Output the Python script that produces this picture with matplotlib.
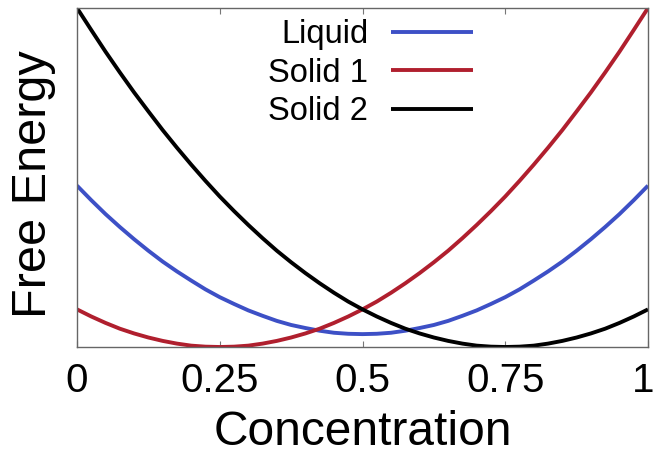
import matplotlib
matplotlib.use("Agg")
import matplotlib.pyplot as plt
import matplotlib.transforms as mtransforms

plt.rcParams['font.family'] = ['Liberation Sans', 'DejaVu Sans']

concentration = [0.000, 0.025, 0.050, 0.075, 0.100, 0.125, 0.150, 0.175, 0.200, 0.225,
                 0.250, 0.275, 0.300, 0.325, 0.350, 0.375, 0.400, 0.425, 0.450, 0.475,
                 0.500, 0.525, 0.550, 0.575, 0.600, 0.625, 0.650, 0.675, 0.700, 0.725,
                 0.750, 0.775, 0.800, 0.825, 0.850, 0.875, 0.900, 0.925, 0.950, 0.975,
                 1.000]
liquid = [0.476, 0.433, 0.392, 0.354, 0.318, 0.284, 0.252, 0.223, 0.196, 0.170,
          0.147, 0.127, 0.108, 0.092, 0.077, 0.065, 0.056, 0.048, 0.042, 0.039,
          0.038, 0.039, 0.042, 0.048, 0.056, 0.065, 0.077, 0.092, 0.108, 0.127,
          0.147, 0.170, 0.196, 0.223, 0.252, 0.284, 0.318, 0.354, 0.392, 0.433,
          0.476]
solid1 = [0.111, 0.090, 0.071, 0.054, 0.040, 0.028, 0.018, 0.010, 0.004, 0.001,
          0.000, 0.001, 0.004, 0.010, 0.018, 0.028, 0.040, 0.054, 0.071, 0.090,
          0.111, 0.134, 0.160, 0.188, 0.218, 0.250, 0.284, 0.321, 0.360, 0.401,
          0.444, 0.490, 0.538, 0.588, 0.640, 0.695, 0.751, 0.810, 0.871, 0.935,
          1.000]
solid2 = [1.000, 0.935, 0.871, 0.810, 0.751, 0.695, 0.640, 0.588, 0.538, 0.490,
          0.444, 0.401, 0.360, 0.321, 0.284, 0.250, 0.218, 0.188, 0.160, 0.134,
          0.111, 0.090, 0.071, 0.054, 0.040, 0.028, 0.018, 0.010, 0.004, 0.001,
          0.000, 0.001, 0.004, 0.010, 0.018, 0.028, 0.040, 0.054, 0.071, 0.090,
          0.111]
series_names = ["Liquid", "Solid 1", "Solid 2"]
xticks = [0, 0.25, 0.5, 0.75, 1]
xtick_labels = ["0", "0.25", "0.5", "0.75", "1"]

fig = plt.figure(figsize=(6.55, 4.55), dpi=100)
ax = fig.add_axes([77/655, 108/455, 571/655, 339/455])

colors = ["#3d50c6", "#b01f2e", "#000000"]
for vals, name, c in zip([liquid, solid1, solid2], series_names, colors):
    ax.plot(concentration, vals, color=c, lw=2.8, label=name, clip_on=True,
            solid_capstyle='butt', solid_joinstyle='round')

ax.set_xlim(0, 1)
ax.set_ylim(0, 1)
ax.set_xticks(xticks)
ax.set_xticklabels(xtick_labels)
ax.set_yticks([])
ax.tick_params(axis='x', direction='in', length=4, width=0.8, color='#777777',
               top=True, labelsize=29, pad=11)
for s in ax.spines.values():
    s.set_color('#666666')
    s.set_linewidth(1.0)

# nudge the last tick label slightly left so it stays inside the canvas
last = ax.get_xticklabels()[-1]
last.set_transform(last.get_transform() +
                   mtransforms.ScaledTranslation(-5/100, 0, fig.dpi_scale_trans))

ax.set_xlabel("Concentration", fontsize=34.5, labelpad=7)
ax.set_ylabel("Free Energy", fontsize=35)
ax.yaxis.set_label_coords(-0.037, 0.48)

leg = ax.legend(loc='upper center', bbox_to_anchor=(0.514, 1.005), frameon=False,
                markerfirst=False, fontsize=23.5, handlelength=2.5,
                handletextpad=0.7, labelspacing=0.23, borderaxespad=0.0)
for t in leg.get_texts():
    t.set_ha('right')

fig.savefig("out.png", dpi=100)
